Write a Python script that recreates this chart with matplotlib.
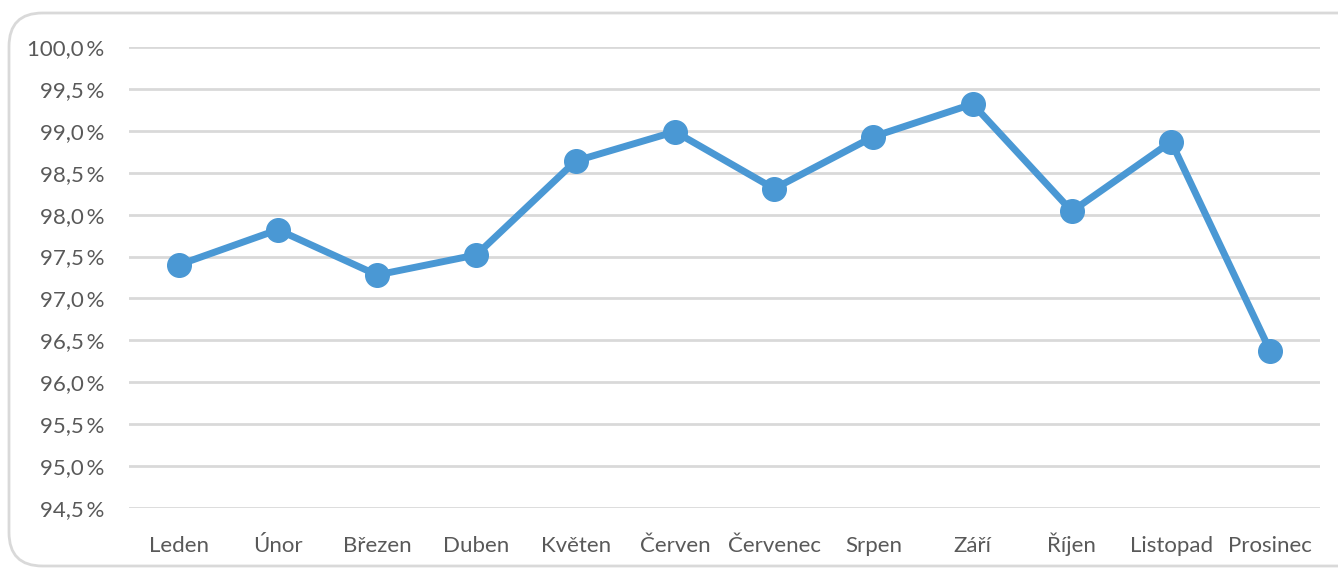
import matplotlib.pyplot as plt
from matplotlib.patches import FancyBboxPatch
from matplotlib.ticker import FuncFormatter, MultipleLocator

# data
months = ['Leden', 'Únor', 'Březen', 'Duben', 'Květen', 'Červen',
          'Červenec', 'Srpen', 'Září', 'Říjen', 'Listopad', 'Prosinec']
values = [97.40, 97.82, 97.28, 97.52, 98.64, 98.99,
          98.31, 98.93, 99.32, 98.04, 98.87, 96.37]

plt.rcParams['font.family'] = ['Lato', 'DejaVu Sans']

fig = plt.figure(figsize=(13.38, 5.70), dpi=100)
W, H = 1338, 570

# rounded frame around the chart
frame = FancyBboxPatch((9 / W, 4 / H), 1.2, (H - 17) / H,
                       boxstyle='round,pad=0,rounding_size=0.025',
                       transform=fig.transFigure, facecolor='white',
                       edgecolor='#d9d9d9', linewidth=2, mutation_aspect=W / H,
                       zorder=-1)
fig.patches.append(frame)

ax = fig.add_axes([129 / W, 1 - 508 / H, (1320 - 129) / W, (508 - 47) / H])
ax.set_facecolor('none')

x = range(len(months))
ax.plot(x, values, color='#4a98d4', linewidth=5, marker='o', markersize=17,
        solid_capstyle='round', zorder=3)

ax.set_xlim(-0.5, len(months) - 0.5)
ax.set_ylim(94.5, 100.0)
ax.yaxis.set_major_locator(MultipleLocator(0.5))
ax.yaxis.set_major_formatter(FuncFormatter(lambda v, p: f'{v:.1f}'.replace('.', ',') + '\u2009%'))
ax.grid(axis='y', color='#d9d9d9', linewidth=2)
ax.set_axisbelow(True)

ax.set_xticks(list(x))
ax.set_xticklabels(months, va='baseline')
ax.tick_params(axis='both', length=0, labelsize=16, colors='#595959')
ax.tick_params(axis='x', pad=32)
ax.tick_params(axis='y', pad=18)

for s in ax.spines.values():
    s.set_visible(False)

plt.savefig('out.png', dpi=100)
